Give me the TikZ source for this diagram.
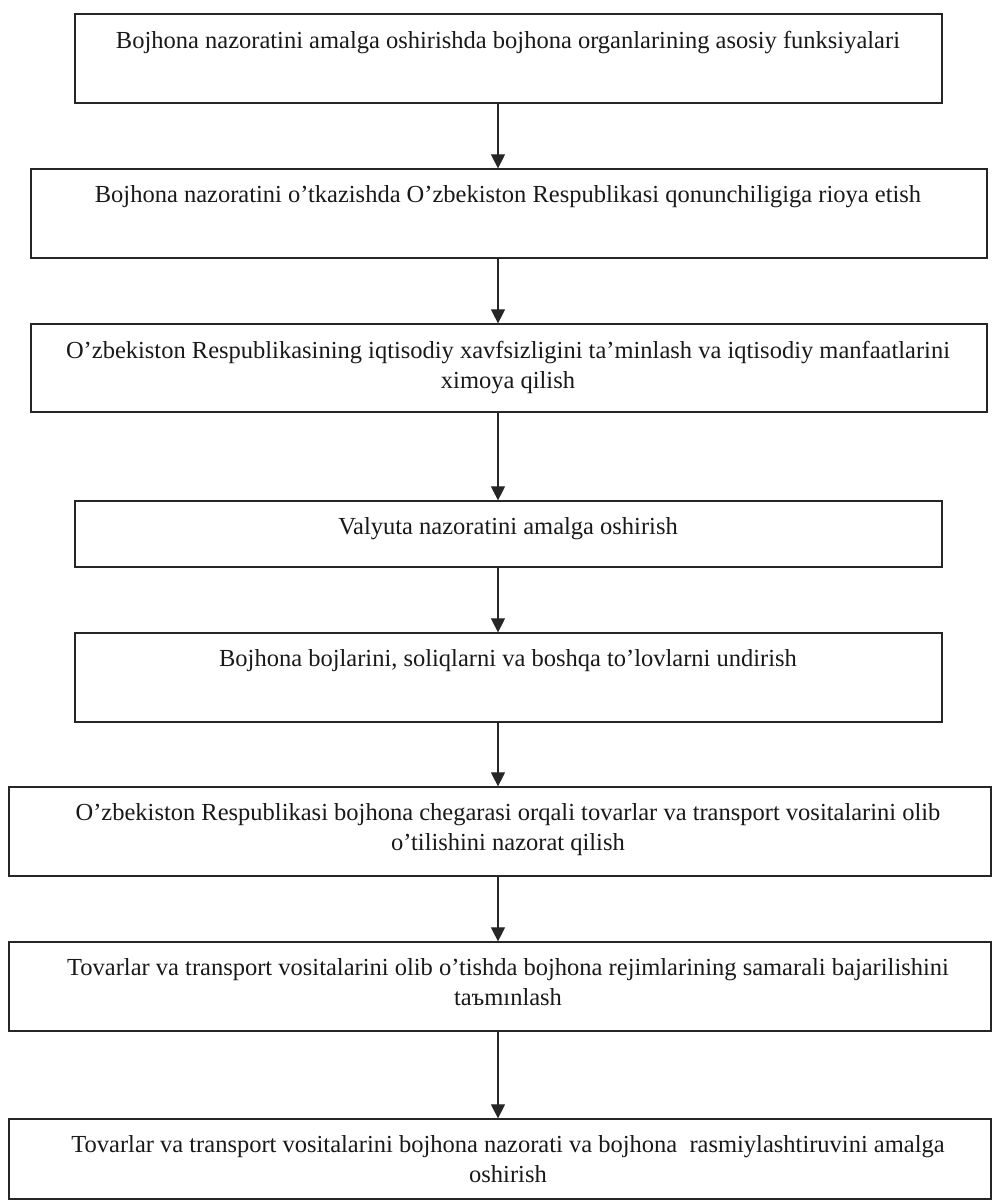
\documentclass[tikz,border=0pt]{standalone}
\usepackage{fontspec}
\setmainfont{Liberation Serif}
\usetikzlibrary{arrows.meta}

\begin{document}
\begin{tikzpicture}[x=0.5pt, y=0.5pt,
  box/.style={draw=black!85, line width=0.6pt, inner sep=0pt, minimum height=44.5pt},
  narrow/.style={box, minimum width=433.5pt},
  wide/.style={box, minimum width=478pt},
  full/.style={box, minimum width=491pt},
  txt/.style={anchor=north, inner sep=0pt, align=center, yshift=-8.6pt,
    text=black!90, font={\fontsize{12.25pt}{15pt}\selectfont}},
  arr/.style={draw=black!85, line width=0.6pt, -{Triangle[length=7pt, width=7pt]}}]
  \useasboundingbox (0,0) rectangle (993,1201);

  % axis of the arrows and of the texts
  \coordinate (ax) at (498,0);
  \coordinate (tx) at (508,0);

  % Boxes
  \node[narrow] (b1) at (508.5,1142.5) {};
  \node[wide] (b2) at (509,987.5) {};
  \node[wide, minimum height=44pt] (b3) at (509,833) {};
  \node[narrow, minimum height=33pt] (b4) at (508.5,667) {};
  \node[narrow] (b5) at (508.5,523.5) {};
  \node[full] (b6) at (500,369.5) {};
  \node[full] (b7) at (500,214.5) {};
  \node[full, minimum height=40pt] (b8) at (500,42) {};

  % Texts
  \node[txt] (t1) at (b1.north -| tx) {Bojhona nazoratini amalga oshirishda bojhona organlarining asosiy funksiyalari};
  \node[txt] (t2) at (b2.north -| tx) {Bojhona nazoratini o’tkazishda O’zbekiston Respublikasi qonunchiligiga rioya etish};
  \node[txt] (t3) at (b3.north -| tx) {O’zbekiston Respublikasining iqtisodiy xavfsizligini ta’minlash va iqtisodiy manfaatlarini\\ximoya qilish};
  \node[txt] (t4) at (b4.north -| tx) {Valyuta nazoratini amalga oshirish};
  \node[txt] (t5) at (b5.north -| tx) {Bojhona bojlarini, soliqlarni va boshqa to’lovlarni undirish};
  \node[txt] (t6) at (b6.north -| tx) {O’zbekiston Respublikasi bojhona chegarasi orqali tovarlar va transport vositalarini olib\\o’tilishini nazorat qilish};
  \node[txt] (t7) at (b7.north -| tx) {Tovarlar va transport vositalarini olib o’tishda bojhona rejimlarining samarali bajarilishini\\taъmınlash};
  \node[txt] (t8) at (b8.north -| tx) {Tovarlar va transport vositalarini bojhona nazorati va bojhona~ rasmiylashtiruvini amalga\\oshirish};

  % Arrows
  \draw[arr] (b1.south -| ax) -- (b2.north -| ax);
  \draw[arr] (b2.south -| ax) -- (b3.north -| ax);
  \draw[arr] (b3.south -| ax) -- (b4.north -| ax);
  \draw[arr] (b4.south -| ax) -- (b5.north -| ax);
  \draw[arr] (b5.south -| ax) -- (b6.north -| ax);
  \draw[arr] (b6.south -| ax) -- (b7.north -| ax);
  \draw[arr] (b7.south -| ax) -- (b8.north -| ax);
\end{tikzpicture}
\end{document}
